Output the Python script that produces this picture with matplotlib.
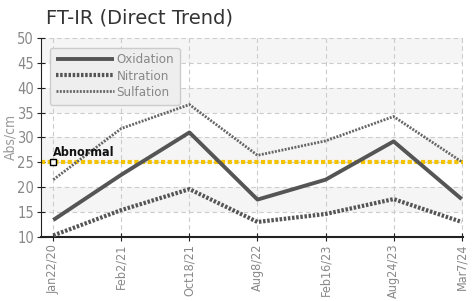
import numpy as np
import matplotlib.pyplot as plt

dates = ["Jan22/20", "Feb2/21", "Oct18/21", "Aug8/22", "Feb16/23", "Aug24/23", "Mar7/24"]
oxidation = [13.4, 22.5, 31.0, 17.5, 21.5, 29.2, 17.6]
nitration = [10.3, 15.4, 19.6, 13.0, 14.6, 17.6, 13.0]
sulfation = [21.5, 31.8, 36.6, 26.4, 29.3, 34.2, 25.1]
abnormal = 25

narrow = dict(family="DejaVu Sans", stretch="condensed")

fig = plt.figure(figsize=(4.72, 3.01), dpi=100)
ax = fig.add_axes([0.087, 0.213, 0.894, 0.661])

x = np.arange(len(dates))

# alternating horizontal bands
for lo in range(10, 50, 10):
    ax.axhspan(lo + 5, lo + 10, color="#f5f5f5", zorder=0, lw=0)

ax.plot(x, oxidation, color="#555555", lw=2.8, solid_capstyle="butt", label="Oxidation", zorder=3)
ax.plot(x, nitration, color="#555555", lw=3.0, ls=(0, (0.6, 0.4)), label="Nitration", zorder=3)
ax.plot(x, sulfation, color="#666666", lw=2.0, ls=(0, (0.7, 0.5)), label="Sulfation", zorder=3)

ax.axhline(abnormal, color="#f5c400", lw=3, ls=(0, (1, 0.6)), zorder=2)
ax.plot([0], [abnormal], marker="s", ms=4.5, mfc="white", mec="black", mew=1, zorder=4)
ax.text(0, abnormal + 0.6, "Abnormal", fontsize=9, fontweight="bold", color="#111111",
        ha="left", va="bottom", zorder=5, **narrow)

ax.set_xlim(-0.18, 6.02)
ax.set_ylim(10, 50)
ax.set_yticks(range(10, 51, 5))
ax.set_xticks(x)
ax.set_xticklabels(dates, rotation=90, fontsize=9, color="#888888", **narrow)
for lbl in ax.get_yticklabels():
    lbl.set_family("DejaVu Sans")
    lbl.set_stretch("condensed")
    lbl.set_fontsize(10.5)
    lbl.set_color("#888888")

ax.grid(True, color="#cccccc", ls=(0, (4, 3)), lw=0.8)
ax.set_axisbelow(True)
for s in ["top", "right"]:
    ax.spines[s].set_visible(False)
ax.spines["left"].set_color("#222222")
ax.spines["bottom"].set_color("#222222")
ax.spines["bottom"].set_linewidth(1.5)
ax.tick_params(axis="both", direction="inout", length=6, color="#222222", pad=2)

ax.set_ylabel("Abs/cm", fontsize=10, color="#999999", labelpad=0, **narrow)

leg = ax.legend(loc="upper left", bbox_to_anchor=(0.005, 0.985), fancybox=True,
                prop={"family": "DejaVu Sans", "stretch": "condensed", "size": 9.5},
                handlelength=4.4, handletextpad=0.2,
                labelspacing=0.25, borderpad=0.45, framealpha=1)
leg.get_frame().set_facecolor("#eeeeee")
leg.get_frame().set_edgecolor("#cccccc")
for t in leg.get_texts():
    t.set_color("#888888")

fig.text(0.097, 0.94, "FT-IR (Direct Trend)", fontsize=14, color="#333333", va="center")

fig.savefig("out.png", dpi=100)
